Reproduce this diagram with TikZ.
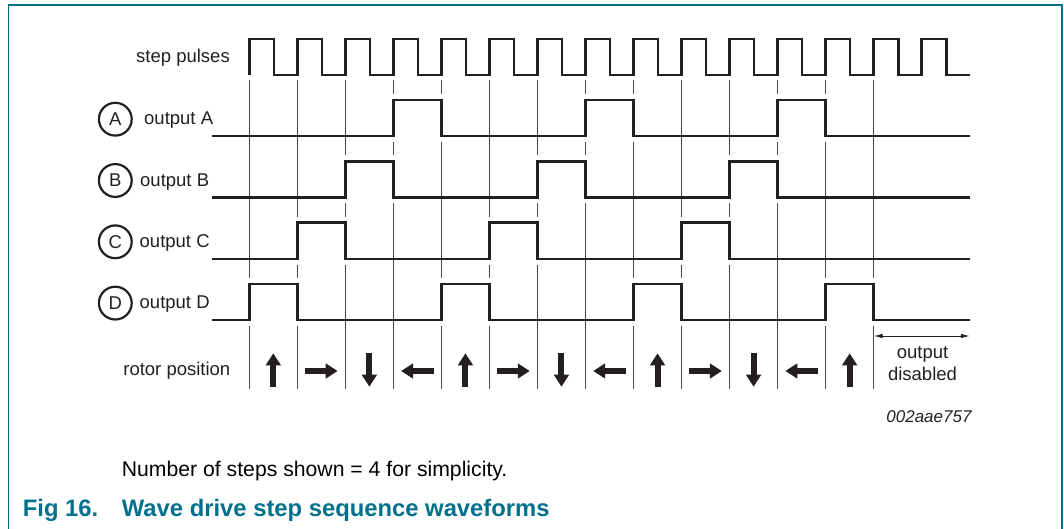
\documentclass[tikz,border=0pt]{standalone}
\usepackage{fontspec}
\setmainfont{Liberation Sans}
\usetikzlibrary{arrows.meta}
\definecolor{nxpteal}{RGB}{0,112,140}
\definecolor{sigcol}{RGB}{35,31,32}
\newcommand\mysigrow[2]{%
  \draw[sig] (212,#1) \foreach \k in {#2} {
    -- ({249.3+48.03*\k},#1) -- ({249.3+48.03*\k},#1-36)
    -- ({249.3+48.03*(\k+1)},#1-36) -- ({249.3+48.03*(\k+1)},#1) } -- (969.75,#1);}
\newcommand\mygaprow[2]{%
  \foreach \k in {#2} { \foreach \e in {0,1} {
    \draw[gapw] ({249.3+48.03*(\k+\e)},#1-42) -- ({249.3+48.03*(\k+\e)},#1-36.5);
    \draw[gapw] ({249.3+48.03*(\k+\e)},#1+0.5) -- ({249.3+48.03*(\k+\e)},#1+6); } }}
\begin{document}
\begin{tikzpicture}[x=1pt,y=-1pt,
  sig/.style={line width=2.6pt, draw=sigcol, line join=miter},
  gridln/.style={line width=0.9pt, draw=black!72},
  gapw/.style={line width=2.6pt, draw=white},
  lbl/.style={inner sep=0pt, font=\fontsize{18.5}{22}\selectfont, text=sigcol},
  circ/.style={circle, draw=sigcol, line width=2.2pt, minimum size=32.8pt, inner sep=0pt,
    font=\fontsize{18.5}{22}\selectfont, text=sigcol},
  rot/.style={line width=6pt, draw=sigcol, -{Triangle[length=12pt,width=14.5pt]}},
  dim/.style={line width=0.8pt, draw=sigcol, {Latex[length=9pt,width=4.5pt]}-{Latex[length=9pt,width=4.5pt]}}
]
\useasboundingbox (0,0) rectangle (1064,529);
% frame
\draw[nxpteal, line width=1.6pt] (8.3,529) -- (8.3,5.3) -- (1061.7,5.3) -- (1061.7,529);
% grid lines
\foreach \k in {0,...,13} {
  \draw[gridln] ({249.3+48.03*\k},80) -- ({249.3+48.03*\k},389);
}
% gaps in grid lines at transitions
\mygaprow{136}{3,7,11}
\mygaprow{197.3}{2,6,10}
\mygaprow{258.8}{1,5,9}
\mygaprow{319.9}{0,4,8,12}
% step pulses
\draw[sig] (249.3,75) \foreach \k in {0,...,14} {
  -- ({249.3+48.03*\k},75) -- ({249.3+48.03*\k},39)
  -- ({273.8+48.03*\k},39) -- ({273.8+48.03*\k},75) } -- (969.75,75);
% outputs
\mysigrow{136}{3,7,11}
\mysigrow{197.3}{2,6,10}
\mysigrow{258.8}{1,5,9}
\mysigrow{319.9}{0,4,8,12}
% labels
\node[lbl, anchor=base east] (tsp) at (230,63) {step pulses};
\node[circ] (ca) at (115.3,119.2) {A};
\node[circ] (cb) at (115.3,180.5) {B};
\node[circ] (cc) at (115.3,241.8) {C};
\node[circ] (cd) at (115.3,303.1) {D};
\node[lbl, anchor=base west] (toa) at (144,124.7) {output A};
\node[lbl, anchor=base west] (tob) at (140,186.1) {output B};
\node[lbl, anchor=base west] (toc) at (139.5,247.5) {output C};
\node[lbl, anchor=base west] (tod) at (139.5,308.9) {output D};
\node[lbl, anchor=base east] (trp) at (230.5,375) {rotor position};
% rotor arrows
\foreach \k/\d in {0/u,1/r,2/d,3/l,4/u,5/r,6/d,7/l,8/u,9/r,10/d,11/l,12/u} {
  \pgfmathsetmacro\cx{273.3+48.03*\k}
  \if u\d \draw[rot] (\cx,386.7) -- (\cx,353.3); \fi
  \if d\d \draw[rot] (\cx,353.3) -- (\cx,386.7); \fi
  \if r\d \draw[rot] (\cx-16.3,371) -- (\cx+16.3,371); \fi
  \if l\d \draw[rot] (\cx+16.3,371) -- (\cx-16.3,371); \fi
}
% output disabled
\coordinate (dl) at (873.7,336);
\coordinate (dr) at (969.75,336);
\draw[dim] (dl) -- (dr);
\node[lbl, anchor=base] (tout) at (922.5,358) {output};
\node[lbl, anchor=base] (tdis) at (922.5,380.7) {disabled};
% id
\node[inner sep=0pt, anchor=base east, font=\fontsize{17}{20}\selectfont\itshape, text=sigcol] (tid) at (971.7,422.5) {002aae757};
% note
\node[inner sep=0pt, anchor=base west, font=\fontsize{21.2}{24}\selectfont, text=black] (tnote) at (121.7,476.7) {Number of steps shown = 4 for simplicity.};
% caption
\node[inner sep=0pt, anchor=base west, font=\fontsize{23.8}{26}\selectfont\bfseries, text=nxpteal] (tfig) at (22.7,516.5) {Fig 16.};
\node[inner sep=0pt, anchor=base west, font=\fontsize{23.8}{26}\selectfont\bfseries, text=nxpteal] (tcap) at (121.7,516.5) {Wave drive step sequence waveforms};
\end{tikzpicture}
\end{document}
